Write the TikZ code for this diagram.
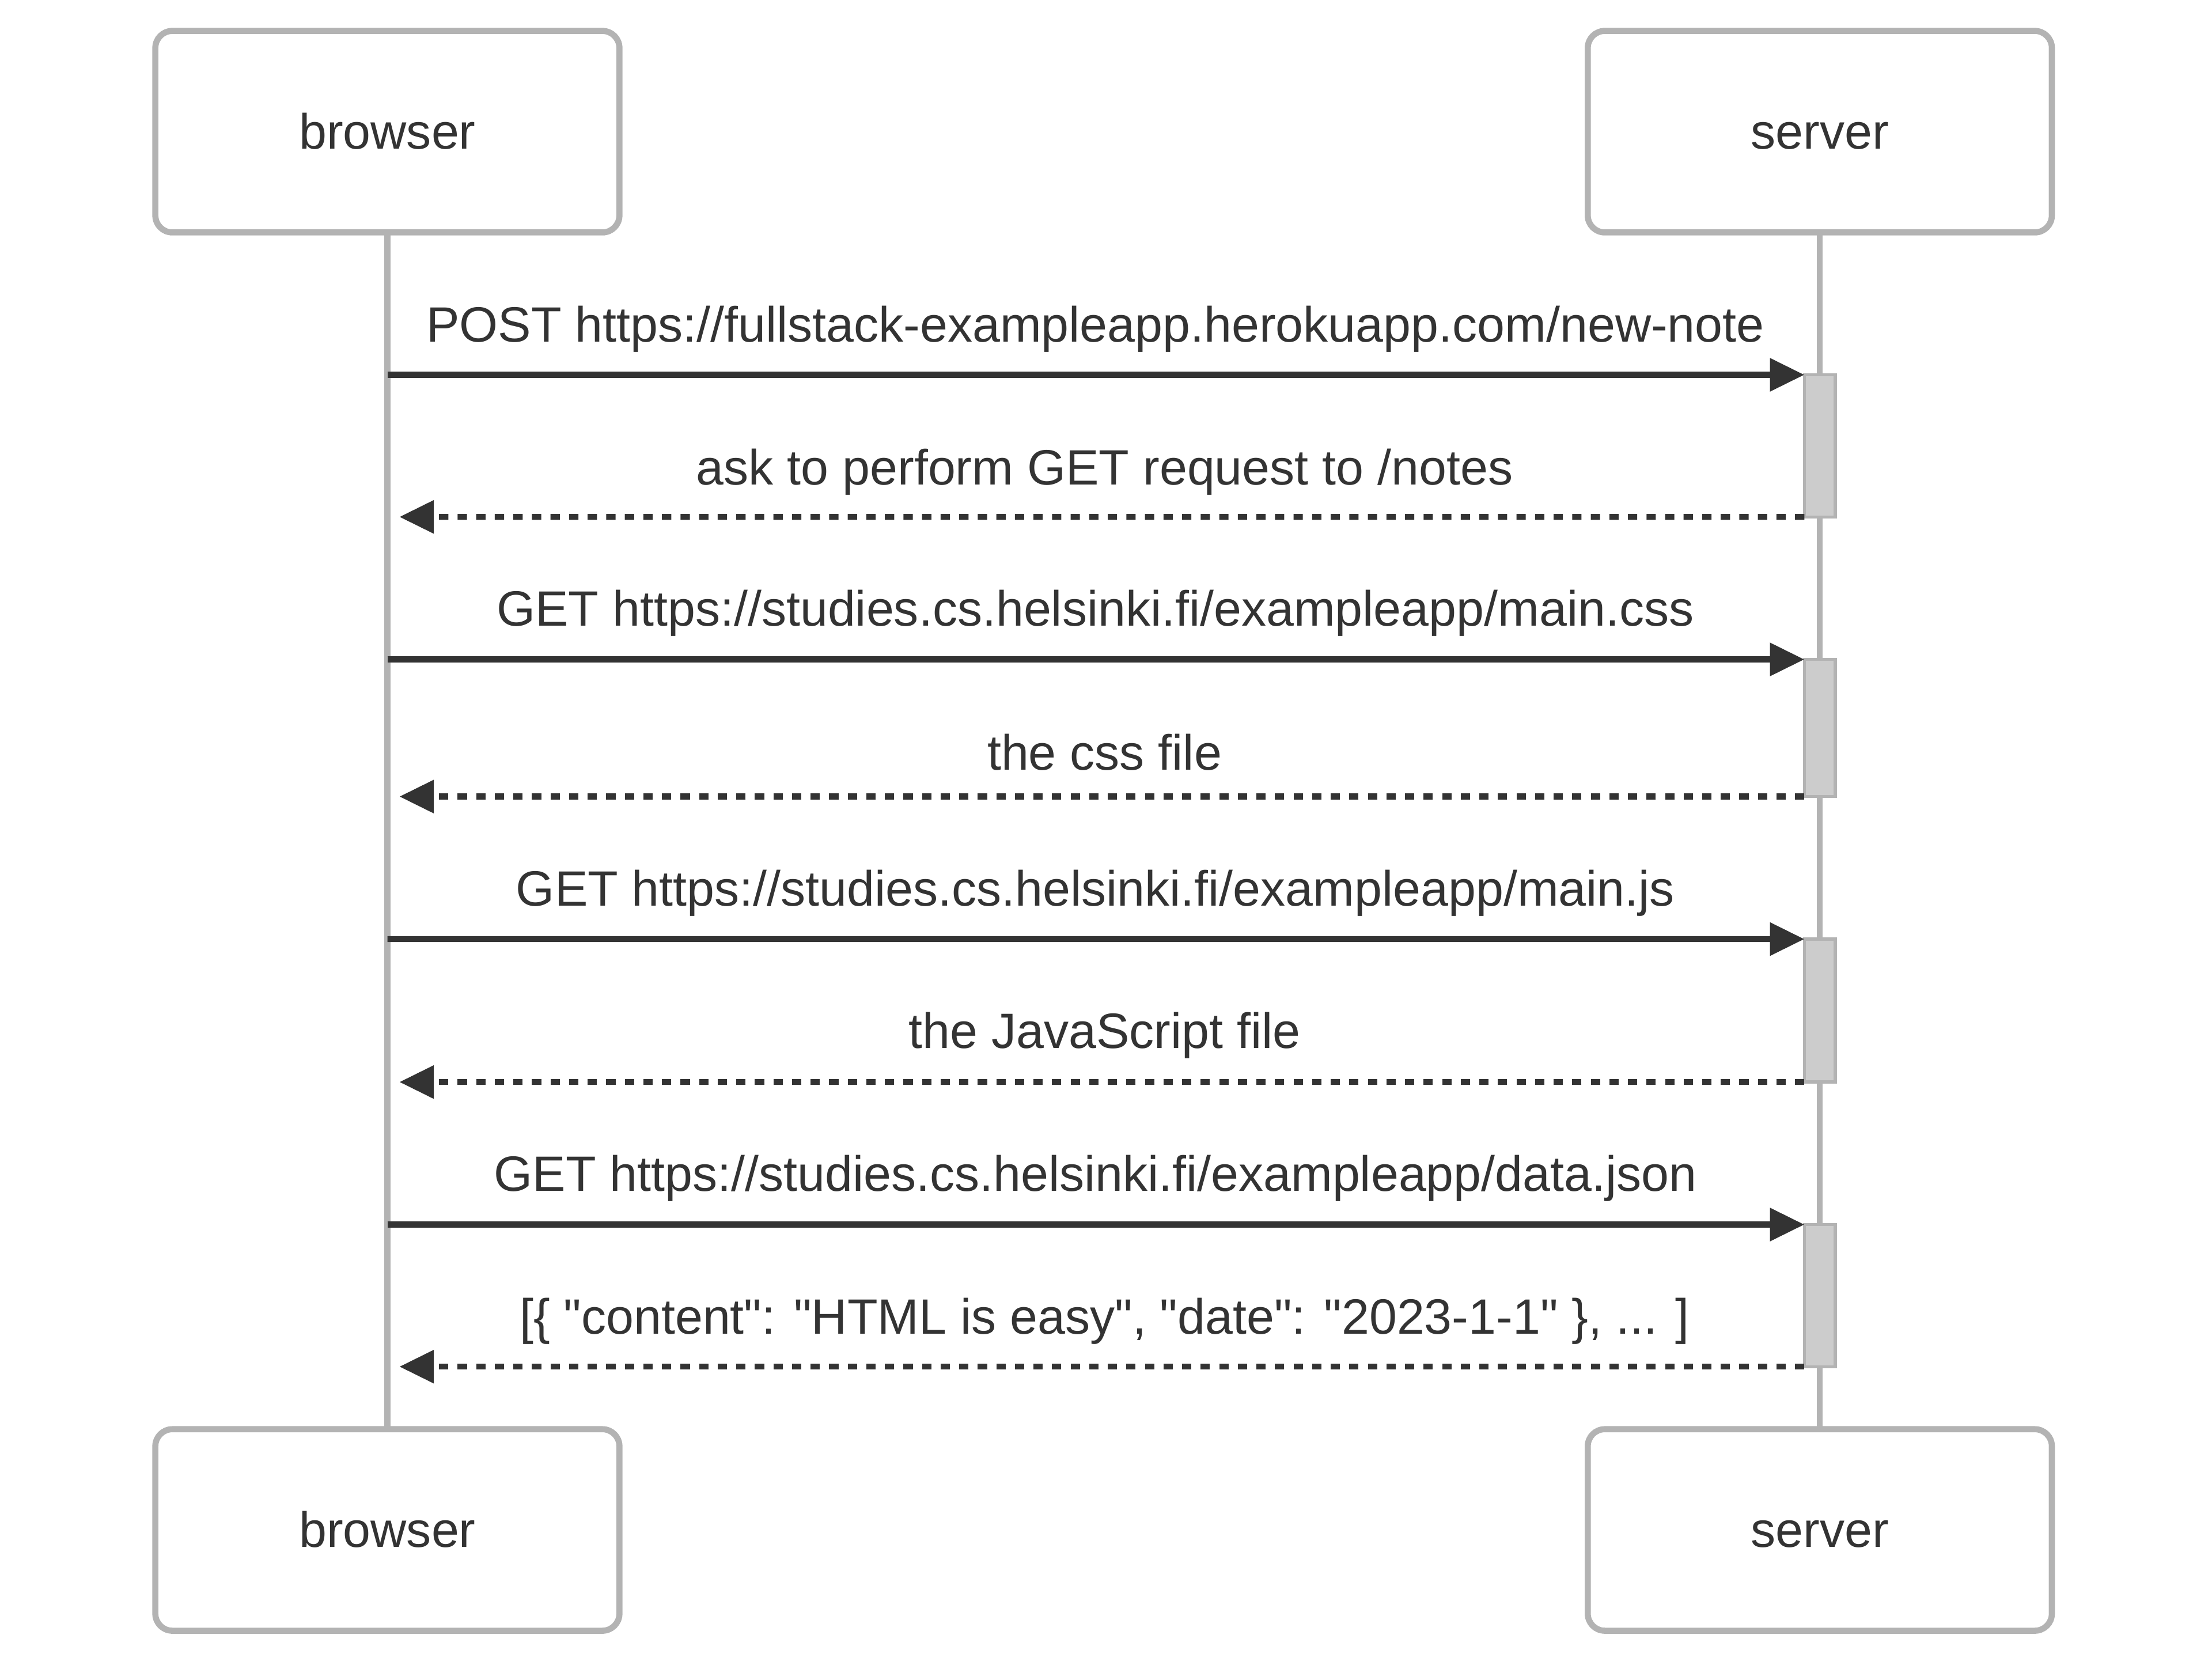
\documentclass[tikz,border=0pt]{standalone}
\usepackage{fontspec}
\setmainfont{Liberation Sans}[Ligatures=TeXOff]
\usetikzlibrary{arrows.meta}
\definecolor{txt}{HTML}{333333}
\definecolor{bord}{HTML}{B3B3B3}
\definecolor{actfill}{HTML}{CCCCCC}
\begin{document}
\begin{tikzpicture}[x=1pt,y=-1pt,
  actor/.style={draw=bord, line width=4.3pt, rounded corners=12pt, fill=white,
    minimum width=327.3pt, minimum height=142.1pt, inner sep=0pt, outer sep=0pt,
    text=txt, font=\fontsize{35}{42}\selectfont, text height=24.1pt, text depth=0pt},
  life/.style={draw=bord, line width=4.2pt},
  act/.style={draw=bord, fill=actfill, line width=2.2pt, minimum width=21.8pt,
    inner sep=0pt, outer sep=0pt},
  msg/.style={draw=txt, line width=4.2pt, -{Triangle[length=24.3pt,width=22.6pt]}},
  ret/.style={msg, dash pattern=on 6.55pt off 6.55pt},
  lbl/.style={anchor=base, inner sep=0pt, text=txt, font=\fontsize{35}{42}\selectfont}]
\useasboundingbox[fill=white] (0,0) rectangle (1560,1176.9);

% actors
\node[actor] (bt) at (273.2,92.85) {browser};
\node[actor] (st) at (1283.4,92.85) {server};
\node[actor] (bb) at (273.2,1078.85) {browser};
\node[actor] (sb) at (1283.4,1078.85) {server};

% lifelines
\draw[life] (bt.south) -- (bb.north);
\draw[life] (st.south) -- (sb.north);

% activations
\node[act, minimum height=100.2pt] (a1) at (1283.4,314.4) {};
\node[act, minimum height=96.7pt] (a2) at (1283.4,513.35) {};
\node[act, minimum height=100.8pt] (a3) at (1283.4,712.6) {};
\node[act, minimum height=100.2pt] (a4) at (1283.4,913.6) {};

% message end points on the browser lifeline
\coordinate (b1) at (273.3,264.3);
\coordinate (r1) at (281.7,364.5);
\coordinate (b2) at (273.3,465.0);
\coordinate (r2) at (281.7,561.7);
\coordinate (b3) at (273.3,662.2);
\coordinate (r3) at (281.7,763.0);
\coordinate (b4) at (273.3,863.5);
\coordinate (r4) at (281.7,963.7);

% messages
\draw[msg] (b1) -- (a1.north west);
\draw[ret] (a1.south west) -- (r1);
\draw[msg] (b2) -- (a2.north west);
\draw[ret] (a2.south west) -- (r2);
\draw[msg] (b3) -- (a3.north west);
\draw[ret] (a3.south west) -- (r3);
\draw[msg] (b4) -- (a4.north west);
\draw[ret] (a4.south west) -- (r4);

% labels
\node[lbl] (l1) at (772.5,241.0) {POST https://fullstack-exampleapp.herokuapp.com/new-note};
\node[lbl] (l2) at (779,342.0) {ask to perform GET request to /notes};
\node[lbl] (l3) at (772.5,441.5) {GET https://studies.cs.helsinki.fi/exampleapp/main.css};
\node[lbl] (l4) at (779,542.8) {the css file};
\node[lbl] (l5) at (772.5,638.7) {GET https://studies.cs.helsinki.fi/exampleapp/main.js};
\node[lbl] (l6) at (779,739.0) {the JavaScript file};
\node[lbl] (l7) at (772.5,840.0) {GET https://studies.cs.helsinki.fi/exampleapp/data.json};
\node[lbl] (l8) at (779,940.5) {[\{ "content": "HTML is easy", "date": "2023-1-1" \}, ... ]};
\end{tikzpicture}
\end{document}
